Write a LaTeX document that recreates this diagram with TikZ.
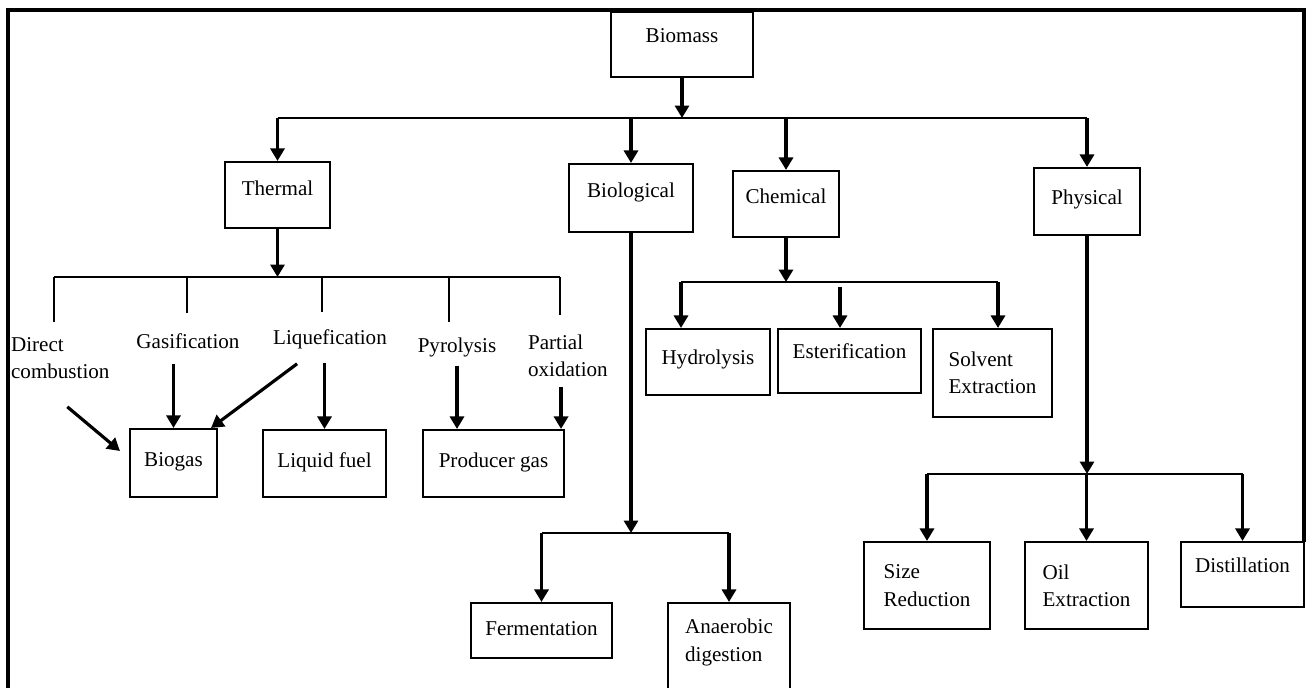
\documentclass[tikz,border=0pt]{standalone}
\usepackage{fontspec}
\setmainfont{Liberation Serif}
\usetikzlibrary{arrows.meta,positioning,calc}

\tikzset{
  box/.style={draw, line width=1.2pt, inner sep=2pt, align=left},
  lbl/.style={inner sep=1pt, align=left},
  arr/.style={-{Triangle[length=2.5mm,width=2.8mm]}, line width=1.8pt},
  bus/.style={line width=1.1pt},
  frame/.style={line width=1.8pt},
  gap/.style={shorten <=#1},
}

\begin{document}
\begin{tikzpicture}[x=0.02cm, y=-0.02cm, font=\fontsize{12}{15.5}\selectfont]
  \clip (0,0) rectangle (1307,687);
  \draw[frame] (8,690) -- (8,10) -- (1304,10) -- (1304,542);

  % root and the four routes
  \node[box, minimum width=2.84cm, minimum height=1.3cm, text depth=0.34cm] (biomass) at (682,44.5) {Biomass};
  \node[box, minimum width=2.1cm, minimum height=1.32cm, text depth=0.28cm] (thermal) at (277.5,195) {Thermal};
  \node[box, minimum width=2.48cm, minimum height=1.36cm, text depth=0.32cm] (biological) at (631,198) {Biological};
  \node[box, minimum width=2.12cm, minimum height=1.32cm, text depth=0.32cm] (chemical) at (786,204) {Chemical};
  \node[box, minimum width=2.12cm, minimum height=1.34cm, text depth=0.18cm] (physical) at (1087,201.5) {Physical};

  \coordinate (mbus) at (682,118);
  \draw[arr] (biomass.south) -- (mbus);
  \draw[bus] (thermal.north |- mbus) -- (physical.north |- mbus);
  \foreach \n in {thermal,biological,chemical,physical}
    \draw[arr] (\n.north |- mbus) -- (\n.north);

  % thermal
  \node[lbl, anchor=west] (dcomb) at (9,358) {Direct\\combustion};
  \node[lbl] (gasif) at (188,341) {Gasification};
  \node[lbl] (liquef) at (330,339) {Liquefication};
  \node[lbl] (pyro) at (457,347) {Pyrolysis};
  \node[lbl, anchor=west] (poxid) at (526,356) {Partial\\oxidation};

  \node[box, minimum width=1.74cm, minimum height=1.36cm, text depth=0.12cm] (biogas) at (173.5,463) {Biogas};
  \node[box, minimum width=2.46cm, minimum height=1.34cm, text depth=0.12cm] (liquid) at (324.5,463.5) {Liquid fuel};
  \node[box, minimum width=2.82cm, minimum height=1.34cm, text depth=0.12cm] (producer) at (493.5,463.5) {Producer gas};

  \coordinate (tbus) at (277.5,277);
  \coordinate (t1) at (54,322);
  \coordinate (t2) at (187,313);
  \coordinate (t3) at (322,312);
  \coordinate (t4) at (449,322);
  \coordinate (t5) at (560,315);
  \draw[arr] (thermal.south) -- (tbus);
  \draw[bus] (t1 |- tbus) -- (t5 |- tbus);
  \foreach \t in {t1,t2,t3,t4,t5}
    \draw[bus] (\t |- tbus) -- (\t);

  \draw[arr] ($(dcomb.south)+(7,26)$) -- ($(biogas.west)+(-9,-12)$);
  \draw[arr, gap=0.26cm] (gasif.south -| biogas.north) -- (biogas.north);
  \draw[arr] ($(liquef.south west)+(26,13)$) -- ([xshift=-0.14cm]biogas.north east);
  \draw[arr, gap=0.25cm] (liquef.south -| liquid.north) -- (liquid.north);
  \draw[arr, gap=0.14cm] (pyro.south) -- (pyro.south |- producer.north);
  \coordinate (pox) at ($(producer.north east)+(-4,0)$);
  \draw[arr, gap=0.16cm] (pox |- poxid.south) -- (pox);

  % biological
  \node[box, minimum width=2.82cm, minimum height=1.1cm, text depth=0.08cm] (ferm) at (541.5,630.5) {Fermentation};
  \node[box, minimum width=2.44cm, minimum height=1.74cm, text depth=0.25cm] (anaer) at (729,646.5) {Anaerobic\\digestion};

  \coordinate (bbus) at (631,533);
  \draw[arr] (biological.south) -- (bbus);
  \draw[bus] (ferm.north |- bbus) -- (anaer.north |- bbus);
  \draw[arr] (ferm.north |- bbus) -- (ferm.north);
  \draw[arr] (anaer.north |- bbus) -- (anaer.north);

  % chemical
  \node[box, minimum width=2.48cm, minimum height=1.32cm, text depth=0.2cm] (hydro) at (708,362) {Hydrolysis};
  \node[box, minimum width=2.86cm, minimum height=1.28cm, text depth=0.4cm] (ester) at (849.5,361) {Esterification};
  \node[box, minimum width=2.38cm, minimum height=1.76cm] (solvent) at (992.5,373) {Solvent\\Extraction};

  \coordinate (cbus) at (786,282);
  \coordinate (c1) at (681,282);
  \coordinate (c2) at (840,282);
  \coordinate (c3) at (998,282);
  \draw[arr] (chemical.south) -- (cbus);
  \draw[bus] (c1) -- (c3);
  \draw[arr] (c1) -- (c1 |- hydro.north);
  \draw[arr, gap=0.1cm] (c2) -- (c2 |- ester.north);
  \draw[arr] (c3) -- (c3 |- solvent.north);

  % physical
  \node[box, minimum width=2.52cm, minimum height=1.74cm] (sizered) at (927,585.5) {Size\\Reduction};
  \node[box, minimum width=2.46cm, minimum height=1.74cm] (oilex) at (1086.5,585.5) {Oil\\Extraction};
  \node[box, minimum width=2.46cm, minimum height=1.3cm, text depth=0.38cm] (distil) at (1242.5,574.5) {Distillation};

  \coordinate (pbus) at (1087,474);
  \draw[arr] (physical.south) -- (pbus);
  \draw[bus] (sizered.north |- pbus) -- (distil.north |- pbus);
  \foreach \n in {sizered,oilex,distil}
    \draw[arr] (\n.north |- pbus) -- (\n.north);
\end{tikzpicture}
\end{document}
